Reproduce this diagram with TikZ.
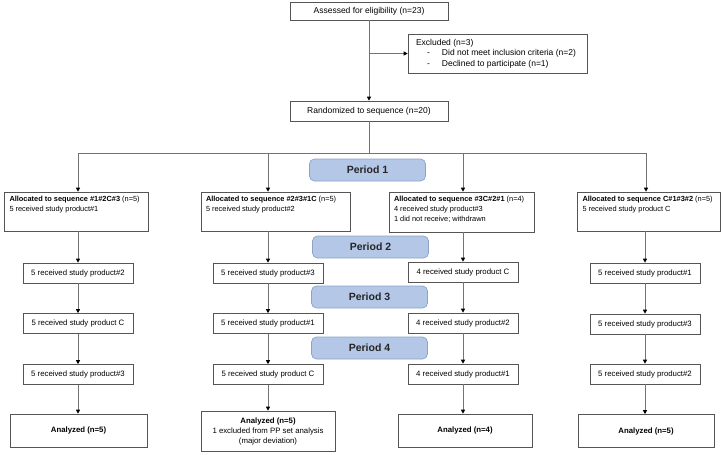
\documentclass[tikz,border=0pt]{standalone}
\usepackage{fontspec}
\setmainfont{Liberation Sans}
\usetikzlibrary{arrows.meta}
\definecolor{bordc}{HTML}{555555}
\definecolor{linec}{HTML}{737373}
\definecolor{perfill}{HTML}{B4C7E7}
\definecolor{perdraw}{HTML}{8AA3C8}
\tikzset{
  topbox/.style={draw=bordc, line width=0.6pt, fill=white, inner sep=0pt, font=\fontsize{8.5}{10.5}\selectfont},
  smallbox/.style={draw=bordc, line width=0.6pt, fill=white, inner sep=0pt, minimum width=110pt, minimum height=20pt, font=\fontsize{7.8}{10}\selectfont},
  allocbox/.style={draw=bordc, line width=0.6pt, fill=white, inner xsep=5pt, inner ysep=1pt, font=\fontsize{7.4}{10.2}\selectfont},
  anabox/.style={draw=bordc, line width=0.6pt, fill=white, inner sep=0pt, minimum height=33pt, align=center, font=\fontsize{7.8}{10}\selectfont},
  periodbox/.style={draw=perdraw, line width=0.7pt, fill=perfill, rounded corners=5pt, minimum width=116pt, minimum height=22pt, inner sep=0pt, font=\fontsize{10.5}{12}\selectfont\bfseries, text=black!85},
  conn/.style={draw=linec, line width=0.9pt},
  arr/.style={conn, -{Triangle[length=4pt,width=4pt,color=black]}}
}
\newcommand{\alloctext}[3]{\parbox[c][#2][t]{#1}{\raggedright\vspace{3pt}#3}}
\begin{document}
\begin{tikzpicture}[x=1pt,y=-1pt]
\useasboundingbox (0,0) rectangle (724,455);

% top
\node[topbox, minimum width=158pt, minimum height=18pt] (assess) at (369,11) {Assessed for eligibility (n=23)};
\node[topbox, minimum width=179pt, minimum height=39pt] (excl) at (497.5,53.5)
  {\parbox{163pt}{Excluded (n=3)\\
   \hspace*{11pt}\makebox[15pt][l]{-}Did not meet inclusion criteria (n=2)\\
   \hspace*{11pt}\makebox[15pt][l]{-}Declined to participate (n=1)}};
\node[topbox, minimum width=158pt, minimum height=20pt] (rand) at (369,111) {Randomized to sequence (n=20)};

\draw[arr] (assess.south) -- (rand.north);
\draw[arr] (assess.south |- excl.west) -- (excl.west);

% split
\coordinate (split) at (369,153);
\coordinate (t1) at (78,153);
\coordinate (t2) at (268,153);
\coordinate (t3) at (463,153);
\coordinate (t4) at (646,153);
\draw[conn] (rand.south) -- (split);
\draw[conn] (t1) -- (t4);

% periods
\node[periodbox] (p1) at (367.5,170) {Period 1};
\node[periodbox] (p2) at (370.5,247) {Period 2};
\node[periodbox] (p3) at (369.5,297) {Period 3};
\node[periodbox] (p4) at (369.5,348) {Period 4};

% allocation boxes
\node[allocbox] (a1) at (76.5,211.5) {\alloctext{134pt}{37pt}{\mbox{\textbf{Allocated to sequence \#1\#2C\#3} (n=5)}\\5 received study product\#1}};
\node[allocbox] (a2) at (275.5,211.5) {\alloctext{139pt}{37pt}{\mbox{\textbf{Allocated to sequence \#2\#3\#1C} (n=5)}\\5 received study product\#2}};
\node[allocbox] (a3) at (461.5,212) {\alloctext{135pt}{38pt}{\mbox{\textbf{Allocated to sequence \#3C\#2\#1} (n=4)}\\4 received study product\#3\\1 did not receive; withdrawn}};
\node[allocbox] (a4) at (649,211.5) {\alloctext{133pt}{37pt}{\mbox{\textbf{Allocated to sequence C\#1\#3\#2} (n=5)}\\5 received study product C}};

\draw[arr] (t1) -- (t1 |- a1.north);
\draw[arr] (t2) -- (t2 |- a2.north);
\draw[arr] (t3) -- (t3 |- a3.north);
\draw[arr] (t4) -- (t4 |- a4.north);

% column 1
\node[smallbox] (r11) at (78,273) {5 received study product\#2};
\node[smallbox] (r12) at (78,323.5) {5 received study product C};
\node[smallbox] (r13) at (78,374.5) {5 received study product\#3};
\node[anabox, minimum width=137pt] (n1) at (78.5,430.5) {\textbf{Analyzed (n=5)}};
% column 2
\node[smallbox] (r21) at (268,273) {5 received study product\#3};
\node[smallbox] (r22) at (268,323.5) {5 received study product\#1};
\node[smallbox] (r23) at (268,374.5) {5 received study product C};
\node[anabox, minimum width=134pt, minimum height=40pt] (n2) at (268,431) {\textbf{Analyzed (n=5)}\\1 excluded from PP set analysis\\(major deviation)};
% column 3
\node[smallbox] (r31) at (463,272) {4 received study product C};
\node[smallbox] (r32) at (463,323) {4 received study product\#2};
\node[smallbox] (r33) at (463,374) {4 received study product\#1};
\node[anabox, minimum width=134pt] (n3) at (465,430.5) {\textbf{Analyzed (n=4)}};
% column 4
\node[smallbox] (r41) at (645,273) {5 received study product\#1};
\node[smallbox] (r42) at (645,324) {5 received study product\#3};
\node[smallbox] (r43) at (645,374) {5 received study product\#2};
\node[anabox, minimum width=136pt] (n4) at (646,431) {\textbf{Analyzed (n=5)}};

\draw[arr] (a1.south -| r11) -- (r11.north);
\draw[arr] (r11) -- (r12);
\draw[arr] (r12) -- (r13);
\draw[arr] (r13) -- (r13 |- n1.north);

\draw[arr] (a2.south -| r21) -- (r21.north);
\draw[arr] (r21) -- (r22);
\draw[arr] (r22) -- (r23);
\draw[arr] (r23) -- (r23 |- n2.north);

\draw[arr] (a3.south -| r31) -- (r31.north);
\draw[arr] (r31) -- (r32);
\draw[arr] (r32) -- (r33);
\draw[arr] (r33) -- (r33 |- n3.north);

\draw[arr] (a4.south -| r41) -- (r41.north);
\draw[arr] (r41) -- (r42);
\draw[arr] (r42) -- (r43);
\draw[arr] (r43) -- (r43 |- n4.north);
\end{tikzpicture}
\end{document}
